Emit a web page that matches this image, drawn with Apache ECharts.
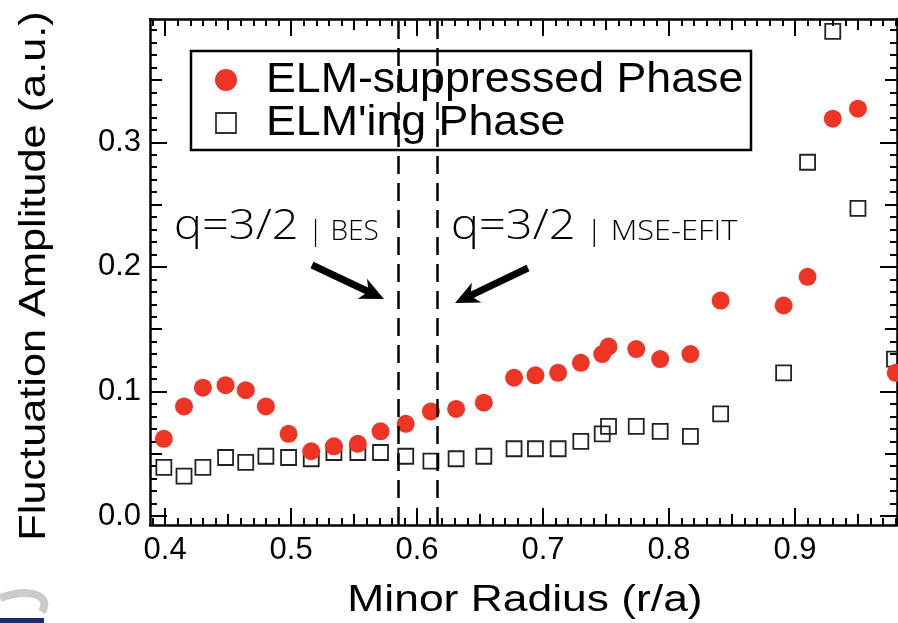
<!DOCTYPE html>
<html>
<head>
<meta charset="utf-8">
<script src="https://cdn.jsdelivr.net/npm/echarts@6/dist/echarts.min.js"></script>
<style>
  html, body { margin: 0; padding: 0; background: #ffffff; }
  #chart { width: 898px; height: 623px; }
</style>
</head>
<body>
<div id="chart"></div>
<script>
// Fluctuation amplitude vs. minor radius for the two plasma phases
const seriesNames = ['ELM-suppressed Phase', "ELM'ing Phase"];

const radiusSuppressed = [0.399, 0.415, 0.430, 0.448, 0.464, 0.480, 0.498, 0.516, 0.534, 0.553,
  0.571, 0.591, 0.611, 0.631, 0.653, 0.677, 0.694, 0.712, 0.730, 0.747,
  0.752, 0.774, 0.793, 0.817, 0.841, 0.891, 0.910, 0.930, 0.950, 0.980];
const ampSuppressed = [0.062, 0.088, 0.103, 0.105, 0.101, 0.088, 0.066, 0.052, 0.056, 0.058,
  0.068, 0.074, 0.084, 0.086, 0.091, 0.111, 0.113, 0.115, 0.123, 0.130,
  0.136, 0.134, 0.126, 0.130, 0.173, 0.169, 0.192, 0.319, 0.327, 0.115];

const radiusElming = [0.399, 0.415, 0.430, 0.448, 0.464, 0.480, 0.498, 0.516, 0.534, 0.553,
  0.571, 0.591, 0.611, 0.631, 0.653, 0.677, 0.694, 0.712, 0.730, 0.747,
  0.752, 0.774, 0.793, 0.817, 0.841, 0.891, 0.910, 0.930, 0.950, 0.979];
const ampElming = [0.039, 0.032, 0.039, 0.047, 0.043, 0.048, 0.047, 0.046, 0.051, 0.051,
  0.051, 0.048, 0.044, 0.046, 0.048, 0.054, 0.054, 0.054, 0.060, 0.066,
  0.072, 0.072, 0.068, 0.064, 0.082, 0.115, 0.284, 0.389, 0.247, 0.126];

// q = 3/2 surface locations (BES, MSE-EFIT)
const q32Radii = [0.585, 0.616];

const xMajorTicks = [0.4, 0.5, 0.6, 0.7, 0.8, 0.9];
const yMajorTicks = [0.0, 0.1, 0.2, 0.3];
const xRange = [0.388, 0.981];
const yRange = [-0.0072, 0.399];

function stepValues(lo, hi, step, skip) {
  const out = [];
  const n0 = Math.ceil(lo / step - 1e-9), n1 = Math.floor(hi / step + 1e-9);
  for (let n = n0; n <= n1; n++) {
    const v = Math.round(n * step * 1e6) / 1e6;
    if (!skip || !skip(n)) out.push(v);
  }
  return out;
}

const xMid = stepValues(xRange[0], xRange[1], 0.05, n => n % 2 === 0);
const xMinor = stepValues(xRange[0], xRange[1], 0.01, n => n % 5 === 0);
const yMid = stepValues(yRange[0], yRange[1], 0.05, n => n % 2 === 0);
const yMinor = stepValues(yRange[0], yRange[1], 0.01, n => n % 5 === 0);

const AX = '#000';
const fmt = v => Number(v).toFixed(1);

function axis(range, position, ticks, len, opts) {
  opts = opts || {};
  return {
    type: 'value',
    min: range[0],
    max: range[1],
    position: position,
    gridIndex: 0,
    axisLine: { show: !!opts.line, onZero: false, lineStyle: { color: AX, width: 2.5 } },
    axisTick: { show: true, inside: true, length: len, customValues: ticks,
      lineStyle: { color: AX, width: 2 } },
    axisLabel: opts.labels ? {
      show: true, customValues: ticks, formatter: fmt, margin: opts.margin,
      color: '#000', fontSize: 31, fontFamily: 'Liberation Sans, Arial, sans-serif'
    } : { show: false },
    splitLine: { show: false },
    minorTick: { show: false }
  };
}

const xAxes = [
  axis(xRange, 'bottom', xMajorTicks, 17, { line: true, labels: true, margin: 10 }),
  axis(xRange, 'bottom', xMid, 11),
  axis(xRange, 'bottom', xMinor, 7),
  axis(xRange, 'top', xMajorTicks, 17, { line: true }),
  axis(xRange, 'top', xMid, 11),
  axis(xRange, 'top', xMinor, 7)
];
const yAxes = [
  axis(yRange, 'left', yMajorTicks, 17, { line: true, labels: true, margin: 9 }),
  axis(yRange, 'left', yMid, 12),
  axis(yRange, 'left', yMinor, 7),
  axis(yRange, 'right', yMajorTicks, 17, { line: true }),
  axis(yRange, 'right', yMid, 12),
  axis(yRange, 'right', yMinor, 7)
];

const zip = (xs, ys) => xs.map((x, i) => [x, ys[i]]);

const RED = '#ee3424';
const dashStyle = { color: '#000', width: 2.5, type: [18, 9], opacity: 1 };

// arrow built from tail and tip points
function arrow(tail, tip, z) {
  const dx = tip[0] - tail[0], dy = tip[1] - tail[1];
  const L = Math.hypot(dx, dy), ux = dx / L, uy = dy / L, px = -uy, py = ux;
  const head = 24, half = 11, notch = 17;
  const base = [tip[0] - ux * head, tip[1] - uy * head];
  const nb = [tip[0] - ux * notch, tip[1] - uy * notch];
  return [
    { type: 'polyline', z: z, shape: { points: [tail, nb] },
      style: { stroke: '#000', lineWidth: 7, fill: null } },
    { type: 'polygon', z: z, shape: { points: [tip,
        [base[0] + px * half, base[1] + py * half], nb,
        [base[0] - px * half, base[1] - py * half]] },
      style: { fill: '#000' } }
  ];
}

const annoFont = '"Open Sans", "DejaVu Sans", sans-serif';
const sansFont = 'Liberation Sans, Arial, sans-serif';

const graphics = [
  // legend box
  { type: 'rect', z: 3, shape: { x: 191, y: 51, width: 560, height: 99 },
    style: { fill: '#fff', stroke: '#000', lineWidth: 2.5 } },
  { type: 'circle', z: 3, shape: { cx: 226, cy: 80, r: 11 }, style: { fill: RED } },
  { type: 'rect', z: 3, shape: { x: 216, y: 113, width: 20, height: 20 },
    style: { fill: 'none', stroke: '#333', lineWidth: 1.8 } },
  { type: 'text', z: 3, x: 266, y: 80, scaleX: 1.04,
    style: { text: seriesNames[0], font: '43px ' + sansFont, fill: '#000', verticalAlign: 'middle' } },
  { type: 'text', z: 3, x: 266, y: 123, scaleX: 1.04,
    style: { text: seriesNames[1], font: '43px ' + sansFont, fill: '#000', verticalAlign: 'middle' } },
  // axis titles
  { type: 'text', x: 525, y: 601, scaleX: 1.2,
    style: { text: 'Minor Radius (r/a)', font: '37px ' + sansFont, fill: '#000',
      align: 'center', verticalAlign: 'middle' } },
  { type: 'text', x: 35, y: 276, rotation: Math.PI / 2, scaleX: 1.17,
    style: { text: 'Fluctuation Amplitude (a.u.)', font: '37px ' + sansFont, fill: '#000',
      align: 'center', verticalAlign: 'middle' } },
  // q = 3/2 annotations
  { type: 'text', x: 174, y: 227, scaleX: 1.12,
    style: { text: 'q=3/2', font: '300 42px ' + annoFont, fill: '#000', verticalAlign: 'middle' } },
  { type: 'text', x: 308, y: 232, scaleX: 1.0,
    style: { text: '| BES', font: '300 28px ' + annoFont, fill: '#000', verticalAlign: 'middle' } },
  { type: 'text', x: 451, y: 227, scaleX: 1.12,
    style: { text: 'q=3/2', font: '300 42px ' + annoFont, fill: '#000', verticalAlign: 'middle' } },
  { type: 'text', x: 586, y: 232, scaleX: 1.1,
    style: { text: '| MSE-EFIT', font: '300 28px ' + annoFont, fill: '#000', verticalAlign: 'middle' } },
  ...arrow([312, 265], [384, 299], 5),
  ...arrow([528, 268], [455, 303], 5),
  // logo fragment in the lower-left corner
  { type: 'bezierCurve', shape: { x1: 0, y1: 598, x2: 42, y2: 612, cpx1: 28, cpy1: 588, cpx2: 52, cpy2: 594 },
    style: { stroke: '#c9cbcd', lineWidth: 8, fill: null } },
  { type: 'rect', shape: { x: 0, y: 618, width: 44, height: 5 }, style: { fill: '#1d2b6b' } }
];

const chart = echarts.init(document.getElementById('chart'), null, { renderer: 'canvas' });
chart.setOption({
  backgroundColor: '#ffffff',
  animation: false,
  grid: { left: 150, top: 19, right: 1, bottom: 98, containLabel: false },
  xAxis: xAxes,
  yAxis: yAxes,
  legend: { show: false, data: seriesNames },
  series: [
    {
      name: seriesNames[1],
      type: 'scatter',
      z: 2,
      symbol: 'rect',
      symbolSize: 15,
      itemStyle: { color: 'rgba(0,0,0,0)', borderColor: '#222', borderWidth: 1.8, opacity: 1 },
      data: zip(radiusElming, ampElming),
      markLine: {
        silent: true, symbol: 'none', precision: 4, label: { show: false },
        lineStyle: dashStyle,
        data: [{ xAxis: q32Radii[1] }]
      }
    },
    {
      name: seriesNames[0],
      type: 'scatter',
      z: 4,
      symbol: 'circle',
      symbolSize: 18,
      itemStyle: { color: RED, opacity: 1 },
      data: zip(radiusSuppressed, ampSuppressed),
      markLine: {
        silent: true, symbol: 'none', precision: 4, label: { show: false },
        lineStyle: dashStyle,
        data: [{ xAxis: q32Radii[0] }]
      }
    }
  ],
  graphic: graphics
});
</script>
</body>
</html>
